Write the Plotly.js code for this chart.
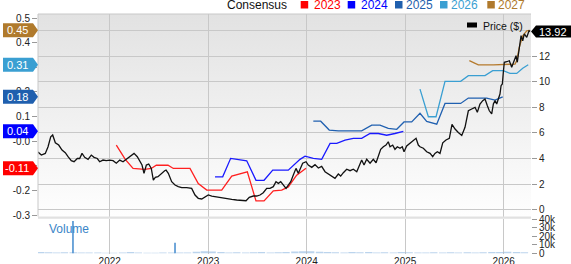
<!DOCTYPE html>
<html><head><meta charset="utf-8">
<script src="https://cdn.plot.ly/plotly-3.0.1.min.js"></script>
<style>html,body{margin:0;padding:0;background:#fff}#chart{width:571px;height:264px}</style>
</head><body><div id="chart"></div>
<script>
// ---- data (decimal years) ----
const priceX = [2021.272,2021.306,2021.346,2021.374,2021.401,2021.421,2021.448,2021.482,2021.516,2021.549,2021.577,2021.610,2021.638,2021.671,2021.695,2021.719,2021.746,2021.780,2021.813,2021.841,2021.874,2021.898,2021.932,2021.965,
2022.000,2022.034,2022.067,2022.102,2022.135,2022.169,2022.203,2022.247,2022.280,2022.305,2022.328,2022.348,2022.372,2022.396,2022.422,2022.443,2022.463,2022.490,2022.524,2022.558,2022.572,2022.595,2022.629,2022.663,2022.696,2022.731,2022.782,2022.832,2022.866,2022.899,2022.934,2022.968,
2023.001,2023.036,2023.069,2023.103,2023.137,2023.188,2023.239,2023.289,2023.340,2023.384,2023.417,2023.458,2023.492,2023.526,2023.559,2023.594,2023.627,2023.661,2023.688,2023.712,2023.736,2023.762,2023.790,2023.813,2023.838,2023.864,2023.891,2023.915,2023.932,2023.959,2023.993,
2024.016,2024.051,2024.084,2024.118,2024.152,2024.186,2024.219,2024.254,2024.287,2024.321,2024.345,2024.372,2024.406,2024.440,2024.473,2024.508,2024.541,2024.558,2024.582,2024.609,2024.643,2024.676,2024.704,2024.727,2024.751,2024.778,2024.805,2024.828,2024.846,2024.873,2024.896,2024.920,2024.947,2024.970,2024.988,
2025.015,2025.049,2025.082,2025.110,2025.133,2025.150,2025.184,2025.218,2025.252,2025.279,2025.302,2025.326,2025.353,2025.381,2025.414,2025.448,2025.475,2025.506,2025.539,2025.574,2025.607,2025.641,2025.675,2025.709,2025.732,2025.759,2025.787,2025.810,2025.834,2025.854,2025.878,2025.895,2025.912,2025.929,2025.945,2025.962,2025.973,2025.986,2025.996,
2026.006,2026.030,2026.057,2026.081,2026.105,2026.125,2026.138,2026.158,2026.176,2026.193,2026.209,2026.234,2026.257,2026.267];
const priceY = [4.5,4.27,4.4,4.92,5.7,5.84,5.23,5.05,4.66,4.45,4.14,3.83,3.75,4.0,4.0,4.4,4.09,3.94,4.27,4.09,4.0,3.75,3.88,3.83,
3.88,3.83,3.63,3.88,3.75,3.94,4.2,4.4,4.14,3.75,3.49,2.84,3.49,3.57,3.23,2.32,2.53,2.58,2.84,3.05,3.1,2.84,2.19,1.93,1.8,1.72,1.72,1.67,1.15,0.89,0.84,1.02,
1.15,1.07,1.02,0.97,0.97,0.89,0.81,0.76,0.70,0.70,0.97,1.07,1.07,1.15,1.33,1.67,1.67,1.8,2.19,2.06,2.19,1.93,1.67,1.93,2.19,2.71,3.23,2.84,3.1,3.63,3.75,
3.49,3.31,3.52,3.26,3.39,2.97,2.79,2.63,2.45,2.79,2.63,2.89,3.16,3.05,3.16,2.97,3.49,3.88,3.49,3.94,3.63,3.94,3.67,4.27,4.72,4.92,5.05,5.31,4.92,5.05,4.72,4.92,4.8,4.92,4.53,
4.98,5.19,5.45,5.58,5.05,4.92,4.8,4.53,4.4,4.14,4.4,4.53,4.4,5.23,5.45,5.58,6.66,6.3,6.03,5.8,6.44,7.73,7.87,8.0,7.61,8.26,8.52,8.65,8.13,7.73,7.48,8.26,8.52,8.26,8.65,9.04,9.69,9.82,10.73,
11.52,11.56,11.64,11.13,11.64,12.03,11.52,12.69,13.6,13.2,13.73,13.47,13.98,13.92];

const e2023X = [2022.067,2022.158,2022.237,2022.355,2022.422,2022.473,2022.592,2022.646,2022.815,2022.899,2022.985,2023.137,2023.239,2023.397,2023.485,2023.567,2023.661,2023.746,2023.813,2023.898,2023.993];
const e2023Y = [-0.016,-0.074,-0.111,-0.115,-0.111,-0.098,-0.098,-0.111,-0.111,-0.172,-0.199,-0.199,-0.142,-0.125,-0.243,-0.243,-0.202,-0.199,-0.186,-0.138,-0.11];
const e2024X = [2023.069,2023.147,2023.228,2023.391,2023.485,2023.567,2023.655,2023.813,2023.932,2023.983,2024.067,2024.152,2024.237,2024.305,2024.389,2024.473,2024.558,2024.643,2024.727,2024.812,2024.896,2024.981];
const e2024Y = [-0.145,-0.145,-0.070,-0.080,-0.159,-0.159,-0.118,-0.118,-0.074,-0.061,-0.070,-0.074,-0.009,-0.009,0.004,0.011,0.011,0.031,0.031,0.024,0.031,0.04];
const e2025X = [2024.067,2024.142,2024.229,2024.321,2024.558,2024.660,2024.744,2024.828,2024.914,2024.988,2025.066,2025.150,2025.218,2025.320,2025.404,2025.563,2025.641,2025.827,2025.912,2025.962,2025.990];
const e2025Y = [0.081,0.081,0.045,0.042,0.042,0.065,0.065,0.052,0.048,0.078,0.078,0.113,0.080,0.069,0.153,0.153,0.175,0.175,0.167,0.175,0.18];
const e2026X = [2025.150,2025.235,2025.313,2025.404,2025.563,2025.641,2025.810,2025.888,2025.996,2026.064,2026.132,2026.193,2026.249];
const e2026Y = [0.211,0.099,0.099,0.243,0.243,0.266,0.266,0.286,0.286,0.275,0.275,0.296,0.31];
const e2027X = [2025.651,2025.742,2025.895,2026.115,2026.132,2026.158,2026.193,2026.234,2026.267];
const e2027Y = [0.327,0.31,0.31,0.313,0.327,0.381,0.428,0.448,0.45];

const volX = [2021.30,2021.38,2021.46,2021.54,2021.63,2021.71,2021.79,2021.88,2021.96,
2022.04,2022.13,2022.21,2022.29,2022.38,2022.46,2022.54,2022.63,2022.71,2022.79,2022.88,2022.96,
2023.04,2023.13,2023.21,2023.29,2023.38,2023.46,2023.54,2023.63,2023.71,2023.79,2023.88,2023.96,
2024.04,2024.13,2024.21,2024.29,2024.38,2024.46,2024.54,2024.63,2024.71,2024.79,2024.88,2024.96,
2025.04,2025.13,2025.21,2025.29,2025.38,2025.46,2025.54,2025.63,2025.71,2025.79,2025.88,2025.96,
2026.04,2026.13,2026.21];
const volY = [1500,1200,1000,1200,1100,1000,800,800,600,
600,800,1500,800,600,600,800,800,800,1000,1800,2500,
2000,1500,1000,1200,1000,1200,1500,1000,1200,1500,2000,2500,
2500,1800,1500,1200,1000,1500,1200,1500,1000,1200,1000,1500,
1200,1000,1000,1200,1000,1200,1000,1200,1000,1200,1500,1500,
1800,1500,1200];
const spikeX = [2021.627, 2022.663];
const spikeY = [38000, 12500];

const years = [2022, 2023, 2024, 2025, 2026];
const yearLabels = ['2022', '2023', '2024', '2025', '2026'];
// labels hidden under the value tags in the reference are left blank
const epsTicks = [-0.3,-0.2,-0.1,0,0.1,0.2,0.3,0.4,0.5];
const epsTickText = ['-0.3','-0.2','','-0.0','0.1','0.2','','0.4','0.5'];
const priceTicks = [0,2,4,6,8,10,12,14];
const priceTickText = ['0','2','4','6','8','10','12',''];
const volTicks = [0,10000,20000,30000,40000];
const volTickText = ['0','10k','20k','30k','40k'];
const legendYears = ['2023','2024','2025','2026','2027'];
const tagValues = [0.45, 0.31, 0.18, 0.04, -0.11];
const lastPrice = 13.92;

// ---- style ----
const C = {'2023':'#ff2020','2024':'#1a1aff','2025':'#2060b0','2026':'#3a9fd2','2027':'#b57a2c'};
const legendC = {'2023':'#ff0000','2024':'#0000ff','2025':'#1f5fae','2026':'#3a9fd2','2027':'#b07a2c'};
const tagColors = [legendC['2027'], legendC['2026'], legendC['2025'], legendC['2024'], legendC['2023']];
const FONT = 'Liberation Sans, Arial, sans-serif';
const L = 38, R = 40, T = 14, B = 10, W = 571, H = 264;
const PW = W - L - R, PH = H - T - B;
const px2x = px => (px - L) / PW;
const py2y = py => (H - B - py) / PH;
const mainBottom = py2y(216.5), volTop = py2y(218.8);

const lineTrace = (x, y, c) => ({x, y, type:'scatter', mode:'lines', xaxis:'x', yaxis:'y', line:{color:c, width:1.3}, hoverinfo:'skip'});
const traces = [
  lineTrace(e2023X, e2023Y, C['2023']),
  lineTrace(e2024X, e2024Y, C['2024']),
  lineTrace(e2025X, e2025Y, C['2025']),
  lineTrace(e2026X, e2026Y, C['2026']),
  {x:priceX, y:priceY, type:'scatter', mode:'lines', xaxis:'x', yaxis:'y2', line:{color:'#111', width:1.3}},
  lineTrace(e2027X, e2027Y, C['2027']),
  {x:volX, y:volY, type:'bar', xaxis:'x2', yaxis:'y3', width:volX.map(()=>0.075), marker:{color:'rgba(120,170,220,0.5)', line:{width:0}}},
  {x:spikeX, y:spikeY, type:'bar', xaxis:'x2', yaxis:'y3', width:spikeX.map(()=>0.016), marker:{color:'#4a8fd0', line:{width:0}}}
];

const shapes = [
  {type:'rect', xref:'paper', yref:'paper', x0:0, x1:1, y0:volTop, y1:mainBottom, fillcolor:'#e1e1e1', line:{width:0}, layer:'above'},
  {type:'line', xref:'paper', yref:'paper', x0:0, x1:1, y0:1, y1:1, line:{color:'#c8c8c8', width:1}},
  {type:'line', xref:'paper', yref:'paper', x0:0, x1:0, y0:mainBottom, y1:1, line:{color:'#c8c8c8', width:1}},
  {type:'rect', xref:'paper', yref:'paper', x0:px2x(467), x1:px2x(477), y0:py2y(27.5), y1:py2y(22.5), fillcolor:'#000', line:{width:0}, layer:'above'},
  {type:'path', xref:'paper', xsizemode:'pixel', xanchor:1, yref:'y2', ysizemode:'pixel', yanchor:lastPrice,
   path:'M0,0 L5,-6 L40,-6 L40,6 L5,6 Z', fillcolor:'#000', line:{width:0}, layer:'above'}
];
tagValues.forEach((v, i) => shapes.push({type:'path', xref:'paper', xsizemode:'pixel', xanchor:0, yref:'y', ysizemode:'pixel', yanchor:v,
  path:'M-35,-7 L-5,-7 L0,0 L-5,7 L-35,7 Z', fillcolor:tagColors[i], line:{width:0}, layer:'above'}));

const sqX = [300.7, 347.7, 395, 440, 487.3];
const txX = [312.5, 359.5, 404.5, 449.5, 496.5];
legendYears.forEach((yr, i) => shapes.push({type:'rect', xref:'paper', yref:'paper', x0:px2x(sqX[i]), x1:px2x(sqX[i]+7.5), y0:py2y(8.5), y1:py2y(1), fillcolor:legendC[yr], line:{width:0}}));

const ann = [];
const txt = (text, px, py, color, size, anchor) => ann.push({text, xref:'paper', yref:'paper', x:px2x(px), y:py2y(py), xanchor:anchor||'left', yanchor:'middle', showarrow:false, font:{family:FONT, size, color}, borderpad:0});
txt('Consensus', 226, 5, '#111', 12);
legendYears.forEach((yr, i) => txt(yr, txX[i], 5, legendC[yr], 12));
txt('Price ($)', 482, 25.5, '#111', 10.5);
txt('Volume', 47.5, 229, '#3a85c8', 12);
tagValues.forEach((v, i) => ann.push({text:v.toFixed(2), xref:'paper', x:px2x(17), yref:'y', y:v, xanchor:'center', yanchor:'middle', showarrow:false, font:{family:FONT, size:11, color:'#fff'}}));
ann.push({text:lastPrice.toFixed(2), xref:'paper', x:px2x(553), yref:'y2', y:lastPrice, xanchor:'center', yanchor:'middle', showarrow:false, font:{family:FONT, size:11, color:'#fff'}});

const gradSvg = "<svg xmlns='http://www.w3.org/2000/svg' width='10' height='100' preserveAspectRatio='none'><defs><linearGradient id='g' x1='0' y1='0' x2='0' y2='1'><stop offset='0' stop-color='#e2e2e2'/><stop offset='1' stop-color='#fefefe'/></linearGradient></defs><rect width='10' height='100' fill='url(#g)'/></svg>";

const tickFont = {family:FONT, size:10, color:'#222'};
const layout = {
  width:W, height:H, margin:{l:L, r:R, t:T, b:B}, paper_bgcolor:'#fff', plot_bgcolor:'rgba(0,0,0,0)',
  showlegend:false, hovermode:false, barmode:'overlay', font:{family:FONT},
  images:[{source:'data:image/svg+xml;charset=utf-8,' + encodeURIComponent(gradSvg), xref:'paper', yref:'paper', x:0, y:1, sizex:1, sizey:1-mainBottom, xanchor:'left', yanchor:'top', sizing:'stretch', layer:'below'}],
  xaxis:{domain:[0,1], anchor:'y', range:[2021.272, 2026.277], tickvals:years, showticklabels:false, showgrid:true, gridcolor:'#c8c8c8', gridwidth:1, zeroline:false, ticks:'', showline:false, fixedrange:true},
  xaxis2:{domain:[0,1], anchor:'y3', matches:'x', range:[2021.272, 2026.277], tickvals:years, ticktext:yearLabels, showticklabels:true, tickfont:tickFont, showgrid:true, gridcolor:'#c8c8c8', zeroline:false, ticks:'', showline:false},
  yaxis:{domain:[mainBottom,1], anchor:'x', side:'left', range:[-0.3061, 0.5163], tickvals:epsTicks, ticktext:epsTickText, tickfont:tickFont, ticks:'outside', ticklen:5, tickcolor:'#999', showgrid:false, zeroline:false, showline:false},
  yaxis2:{overlaying:'y', anchor:'x', side:'right', range:[-0.53, 15.29], tickvals:priceTicks, ticktext:priceTickText, tickfont:tickFont, ticks:'outside', ticklen:5, tickcolor:'#999', showgrid:true, gridcolor:'#c8c8c8', zeroline:false, showline:false},
  yaxis3:{domain:[0, volTop], anchor:'x2', side:'right', range:[-820, 40600], tickvals:volTicks, ticktext:volTickText, tickfont:tickFont, ticks:'outside', ticklen:5, tickcolor:'#999', showgrid:false, zeroline:false, showline:false},
  shapes, annotations:ann
};
Plotly.newPlot('chart', traces, layout, {staticPlot:true, displayModeBar:false});
</script></body></html>
